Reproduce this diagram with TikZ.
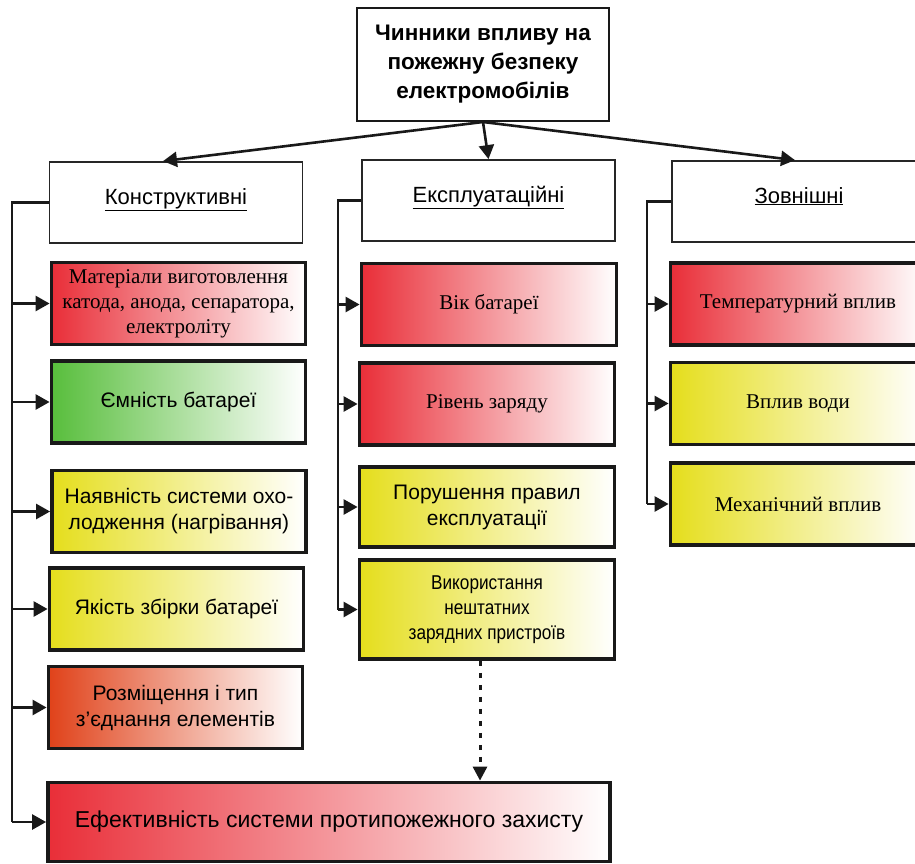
\documentclass[tikz,border=0pt]{standalone}
\usepackage{fontspec}
\setmainfont{Liberation Serif}
\setsansfont{Liberation Sans}
\newfontfamily\narrowsf{Liberation Sans}[FakeStretch=0.86]
\usetikzlibrary{arrows.meta}
\definecolor{firered}{RGB}{233,46,56}
\definecolor{leafgreen}{RGB}{88,190,60}
\definecolor{lemon}{RGB}{229,222,28}
\definecolor{flame}{RGB}{224,66,26}
\newcommand{\sftext}{\sffamily\fontsize{21}{26}\selectfont}
\newcommand{\rmtext}{\rmfamily\fontsize{21}{25}\selectfont}

\begin{document}
\begin{tikzpicture}[x=1pt,y=-1pt,
	head/.style={draw=black!85,line width=1.8pt,fill=white,minimum width=253pt,minimum height=81pt,inner sep=2pt,text height=15pt,text depth=12pt,font=\sffamily\fontsize{22}{26}\selectfont},
	factor/.style={draw=black!90,line width=3.8pt,minimum width=255pt,minimum height=82pt,inner sep=2pt,align=center,right color=white},
	trunk/.style={line width=2.6pt,black!90},
	conn/.style={line width=2.6pt,black!90,-{Triangle[length=14pt,width=15pt]}},
	dotarrow/.style={line width=3pt,black!90,dash pattern=on 5pt off 7pt,-{Triangle[length=14pt,width=14pt]}}]
			\useasboundingbox (0,0) rectangle (915,863);
			% top and the three groups
			\node[draw=black!90,line width=2pt,fill=white,minimum width=252pt,minimum height=113pt,align=center,font=\sffamily\bfseries\fontsize{22.5}{29}\selectfont] (top) at (483,64.5) {Чинники впливу на\\пожежну безпеку\\електромобілів};
			\node[head] (konstr) at (176,202.5) {\underline{Конструктивні}};
			\node[head] (ekspl) at (488.5,200.5) {\underline{Експлуатаційні}};
			\node[head,minimum width=254pt] (zovn) at (799,201.5) {\underline{Зовнішні}};
			\draw[conn] (top.south) -- ([xshift=-13pt]konstr.north);
			\draw[conn] (top.south) -- (ekspl.north);
			\draw[conn] (top.south) -- ([xshift=-4pt]zovn.north);
			% constructive
			\node[factor,minimum width=254pt,left color=firered,font=\rmtext] (mater) at (178.5,303.5) {Матеріали виготовлення\\катода, анода, сепаратора,\\електроліту};
			\node[factor,minimum width=254pt,left color=leafgreen,font=\sftext] (emn) at (178.5,402) {Ємність батареї};
			\node[factor,minimum width=254pt,left color=lemon,font=\sftext] (nayav) at (179,511.5) {Наявність системи охо-\\лодження (нагрівання)};
			\node[factor,minimum width=254pt,left color=lemon,font=\sftext] (yakist) at (176.5,609) {Якість збірки батареї};
			\node[factor,minimum width=254pt,left color=flame,font=\sftext] (rozm) at (175.5,707.5) {Розміщення і тип\\з’єднання елементів};
			\node[factor,minimum width=562pt,minimum height=79pt,left color=firered,font=\sffamily\fontsize{23}{28}\selectfont] (eff) at (329,822) {Ефективність системи протипожежного захисту};
			\coordinate (kline) at (12,0);
			\draw[trunk] (konstr.west) -- (konstr.west -| kline) -- (eff.west -| kline);
			\foreach \b in {mater,emn,nayav,yakist,rozm,eff}
				\draw[conn] (\b.west -| kline) -- (\b.west);
			% operational
			\node[factor,left color=firered,font=\rmtext] (vik) at (489,304.5) {Вік батареї};
			\node[factor,left color=firered,font=\rmtext] (riven) at (487,404) {Рівень заряду};
			\node[factor,minimum height=80pt,left color=lemon,font=\sftext] (porush) at (487,507) {Порушення правил\\експлуатації};
			\node[factor,minimum height=99pt,left color=lemon,font=\narrowsf\fontsize{20}{25}\selectfont] (vykor) at (487,609.5) {Використання\\нештатних\\зарядних пристроїв};
			\coordinate (eline) at (338,0);
			\draw[trunk] (ekspl.west) -- (ekspl.west -| eline) -- (vykor.west -| eline);
			\foreach \b in {vik,riven,porush,vykor}
				\draw[conn] (\b.west -| eline) -- (\b.west);
			\draw[dotarrow] ([xshift=-7pt]vykor.south) -- ([xshift=-7pt]vykor.south |- eff.north);
			% external
			\node[factor,left color=firered,font=\rmtext] (temp) at (798,304) {Температурний вплив};
			\node[factor,left color=lemon,font=\rmtext] (voda) at (798,403.5) {Вплив води};
			\node[factor,left color=lemon,font=\rmtext] (mekh) at (798,504) {Механічний вплив};
			\coordinate (zline) at (647,0);
			\draw[trunk] (zovn.west) -- (zovn.west -| zline) -- (mekh.west -| zline);
			\foreach \b in {temp,voda,mekh}
				\draw[conn] (\b.west -| zline) -- (\b.west);
		\end{tikzpicture}
\end{document}
